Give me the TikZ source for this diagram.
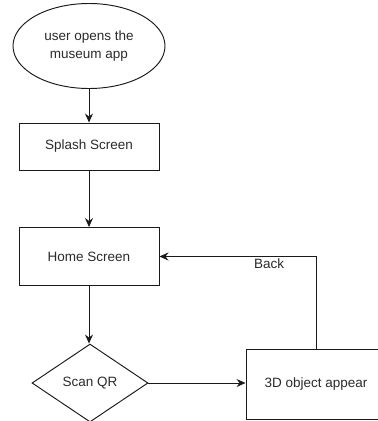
\documentclass[tikz,border=0pt]{standalone}
\usepackage{fontspec}
\setmainfont{Liberation Sans}
\usetikzlibrary{shapes.geometric,arrows.meta}
\definecolor{ink}{HTML}{1A1A1A}
\definecolor{txt}{HTML}{2B2B2B}
\tikzset{
  base/.style={draw=ink, line width=0.95pt, inner sep=0pt, text=txt,
    font=\fontsize{13.5}{18}\selectfont, align=center},
  startnode/.style={base, ellipse, minimum width=152pt, minimum height=85pt},
  procbox/.style={base, rectangle, minimum width=140pt},
  decision/.style={base, diamond, minimum width=116pt, minimum height=78pt},
  flow/.style={draw=ink, line width=0.95pt, -{Stealth[length=9pt,width=8pt,inset=3pt]}},
}
\begin{document}
\begin{tikzpicture}[x=1pt, y=-1pt]
  \useasboundingbox (0,0) rectangle (378,421);
  \clip (0,0) rectangle (378,421);
  \fill[white] (0,0) rectangle (378,421);

  % flow nodes
  \node[startnode] (start) at (89,46) {user opens the\\museum app};
  \node[procbox, minimum height=47pt] (splash) at (89,146.5) {Splash Screen};
  \node[procbox, minimum height=58pt] (home) at (89,256.5) {Home Screen};
  \node[decision] (scan) at (90,383) {Scan QR};
  \node[procbox, minimum height=70pt] (obj) at (316,384) {3D object appear};

  % connectors
  \draw[flow] (start) -- (splash);
  \draw[flow] (splash) -- (home);
  \draw[flow] (home.south) -- (home.south |- scan.north);
  \draw[flow] (scan.east) -- (scan.east -| obj.west);
  \draw[flow] (obj.north) |- node[pos=0.65, yshift=-7pt, text=txt,
    font=\fontsize{13.5}{18}\selectfont] {Back} (home.east);
\end{tikzpicture}
\end{document}
